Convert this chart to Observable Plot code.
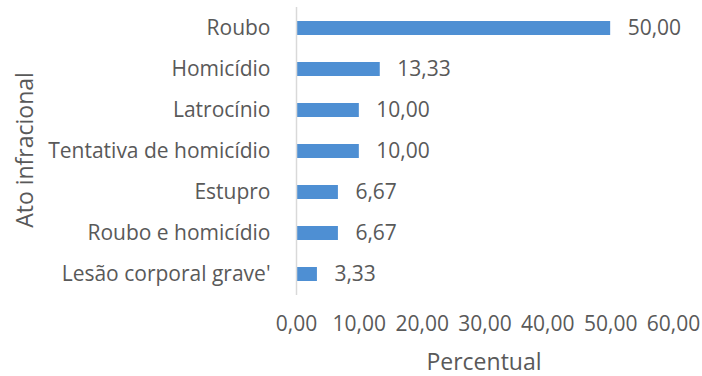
<!DOCTYPE html>
<html>
<head>
<meta charset="utf-8">
<script src="https://cdn.jsdelivr.net/npm/d3@7"></script>
<script src="https://cdn.jsdelivr.net/npm/@observablehq/plot@0.6"></script>
<style>
  html, body { margin: 0; padding: 0; background: #fff; }
  #chart { width: 702px; height: 376px; }
</style>
</head>
<body>
<div id="chart"></div>
<script>
const categories = ["Roubo", "Homicídio", "Latrocínio", "Tentativa de homicídio", "Estupro", "Roubo e homicídio", "Lesão corporal grave'"];
const values = [50.00, 13.33, 10.00, 10.00, 6.67, 6.67, 3.33];
const xTicks = [0, 10, 20, 30, 40, 50, 60];

const data = categories.map((c, i) => ({ category: c, value: values[i] }));
const fmt = d => d.toFixed(2).replace(".", ",");
const textColor = "#595959";
const font = "'Open Sans', sans-serif";
const fs = 21;

const chart = Plot.plot({
  width: 702,
  height: 376,
  marginTop: 7,
  marginBottom: 81,
  marginLeft: 296,
  marginRight: 29,
  style: { fontFamily: font, fontSize: fs + "px", color: textColor, background: "#fff" },
  x: { domain: [0, 60], ticks: xTicks },
  y: { domain: categories, paddingInner: 0.66, paddingOuter: 0.33, align: 0.5 },
  marks: [
    Plot.barX(data, { y: "category", x: "value", fill: "#4e8fd3" }),
    Plot.text(data, { y: "category", x: "value", text: d => fmt(d.value), textAnchor: "start", dx: 17, fill: textColor, fontSize: fs }),
    Plot.axisX({ ticks: xTicks, tickSize: 0, tickPadding: 21, tickFormat: fmt, label: null, fill: textColor, fontSize: fs }),
    Plot.axisY({ tickSize: 0, tickPadding: 26, label: null, fill: textColor, fontSize: fs }),
    Plot.ruleX([0], { stroke: "#d9d9d9", strokeWidth: 1.5 })
  ]
});

const svg = d3.select(chart);
svg.append("text")
  .attr("x", 484).attr("y", 364)
  .attr("text-anchor", "middle").attr("dominant-baseline", "middle")
  .attr("fill", textColor).style("font-size", "23px").style("font-family", font)
  .text("Percentual");
svg.append("text")
  .attr("transform", "translate(27,150) rotate(-90)")
  .attr("text-anchor", "middle").attr("dominant-baseline", "middle")
  .attr("fill", textColor).style("font-size", "23px").style("font-family", font)
  .text("Ato infracional");

document.getElementById("chart").appendChild(chart);
</script>
</body>
</html>
